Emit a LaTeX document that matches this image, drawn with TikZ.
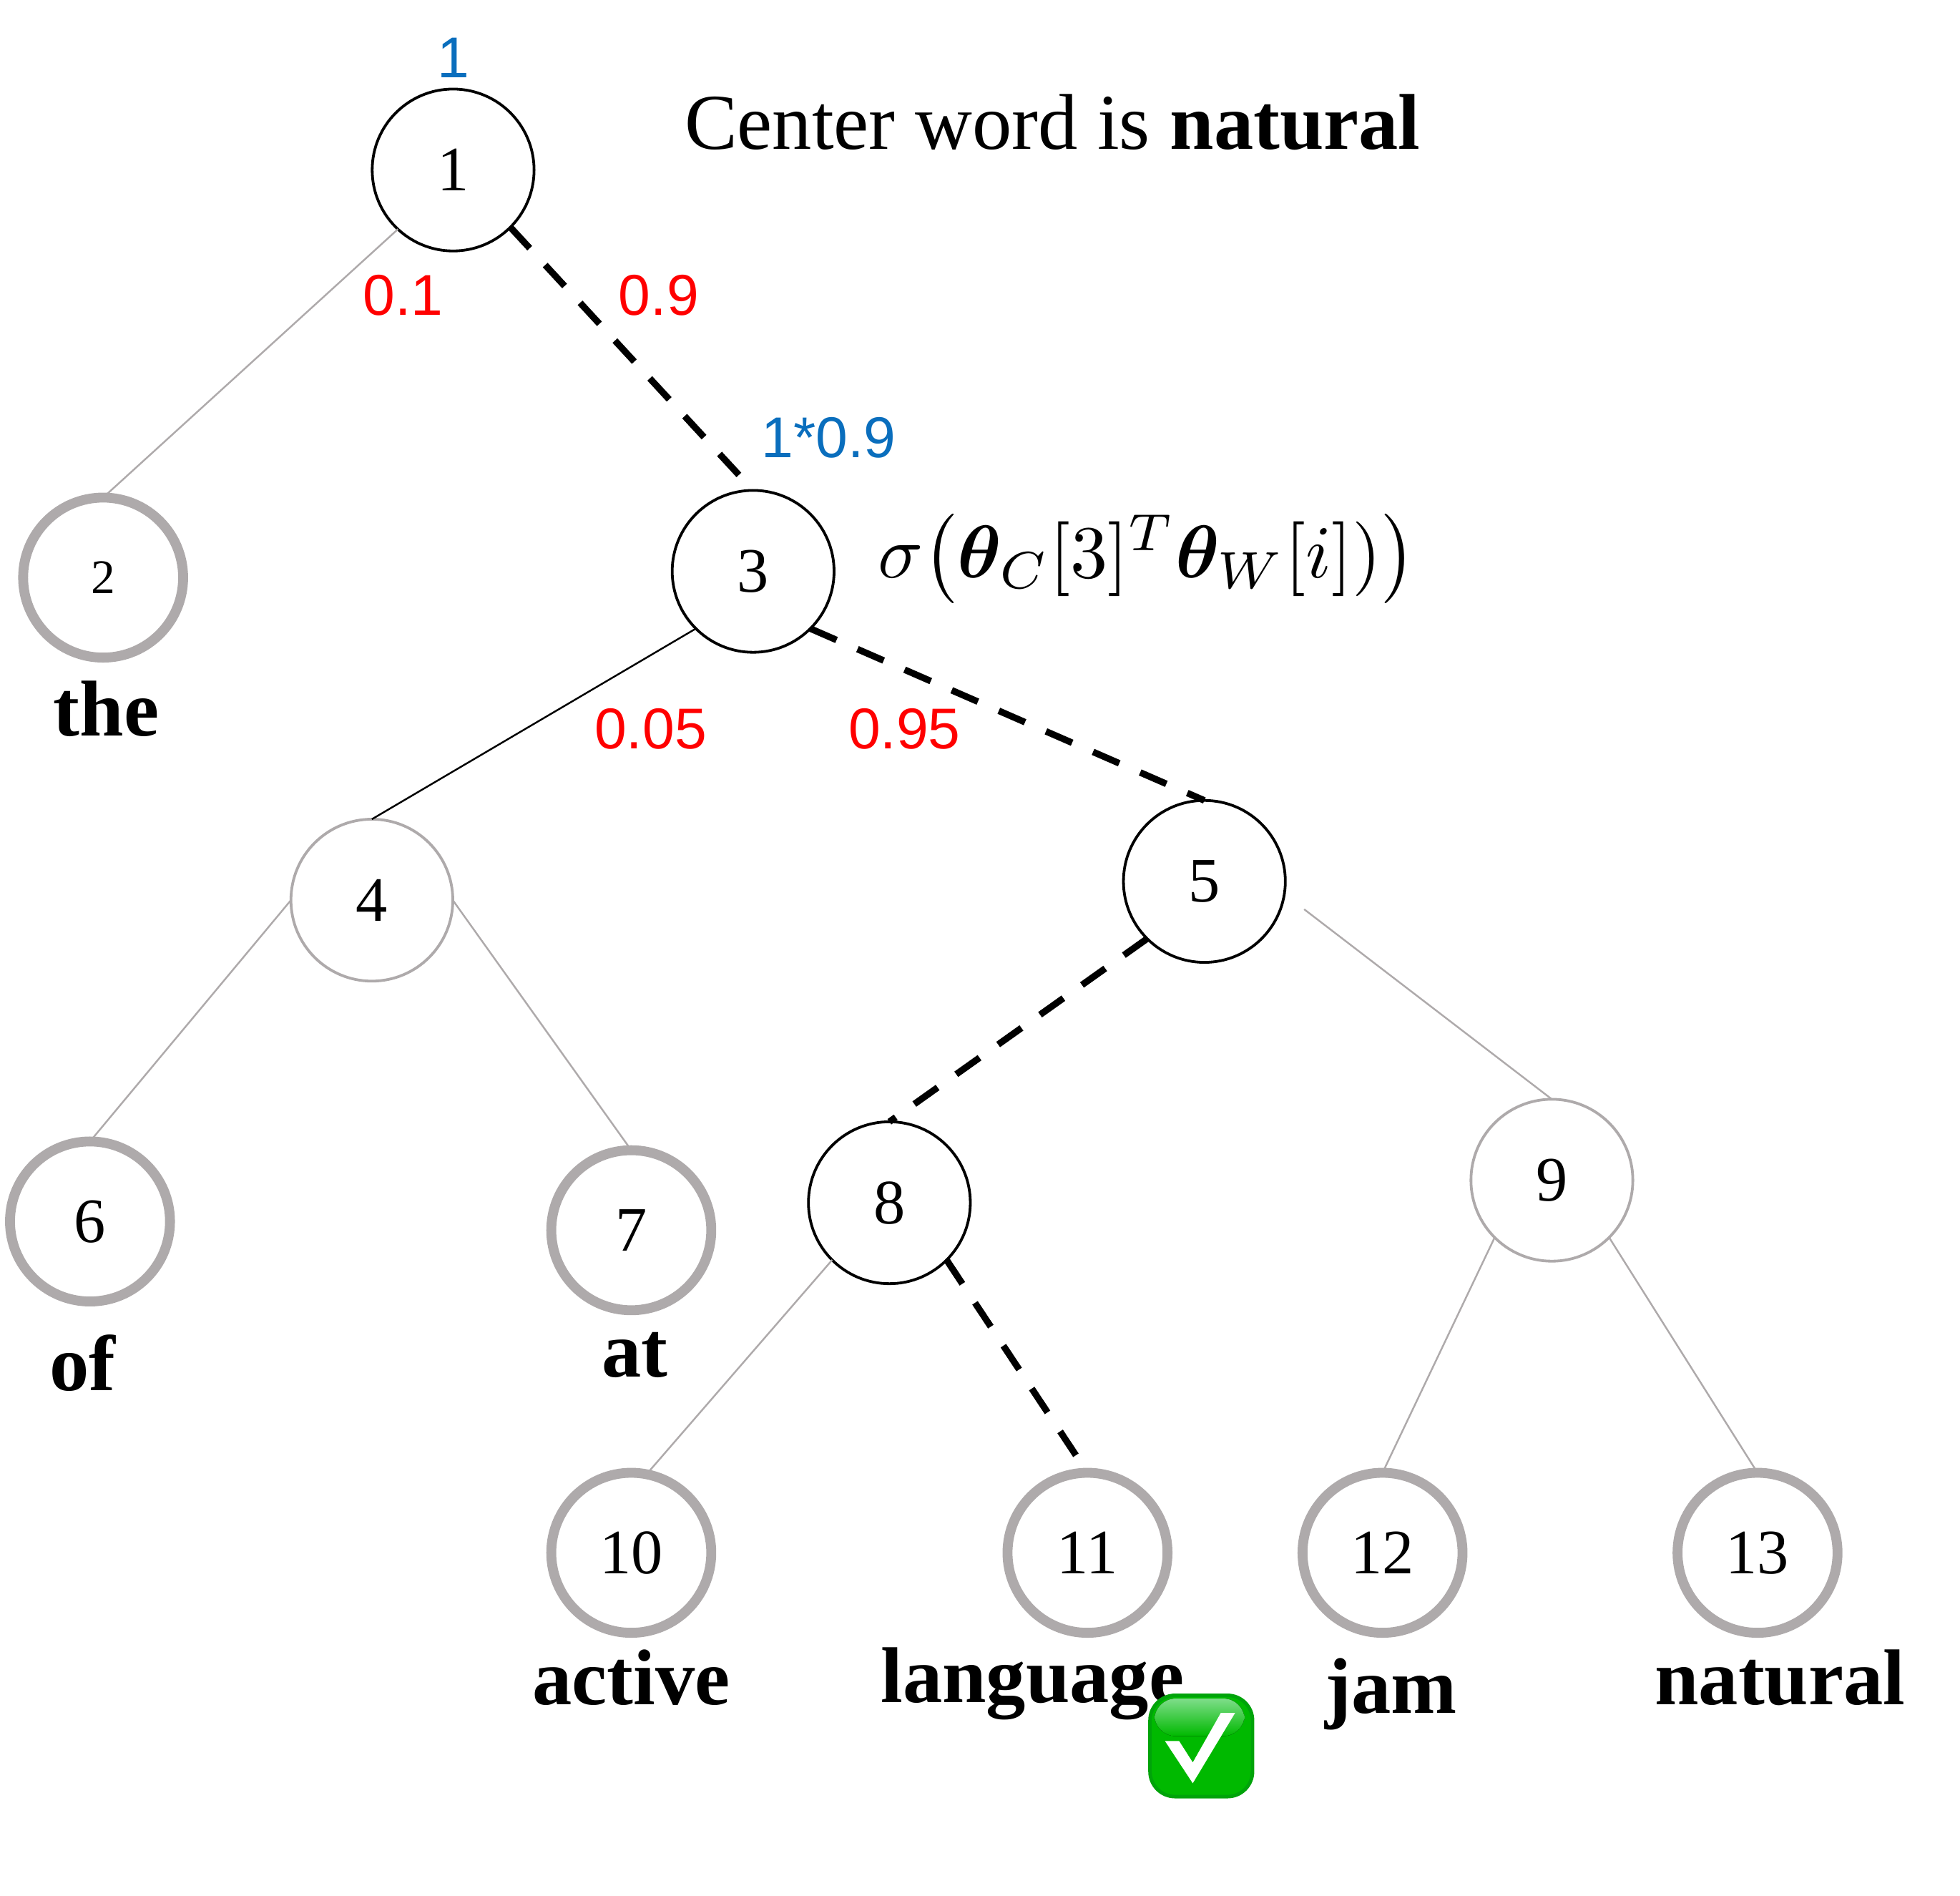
\documentclass[tikz,border=0pt]{standalone}
\usepackage{amsmath}
\usepackage{bm}
\usepackage{fontspec}
\setmainfont{Liberation Serif}
\newfontfamily\sansfont{Liberation Sans}
\definecolor{ringgray}{HTML}{AEAAAB}
\definecolor{probblue}{HTML}{0A6EBD}
\definecolor{tickgreen}{HTML}{00B900}
\definecolor{tickedge}{HTML}{00A30A}
\definecolor{tickglow}{HTML}{8FE29C}
\tikzset{
  inner/.style={circle,draw=black,line width=0.62pt,minimum size=1.295cm,inner sep=0pt,outer sep=0pt,font=\fontsize{14.4}{16}\selectfont},
  innergray/.style={inner,draw=ringgray},
  leaf/.style={inner,draw=ringgray,line width=2.25pt,minimum size=1.28cm},
  wordlabel/.style={font=\fontsize{18}{20}\selectfont\bfseries,inner sep=0pt},
  problabel/.style={font=\sansfont\fontsize{13.1}{15}\selectfont,text=red,inner sep=0pt},
  pathlabel/.style={problabel,text=probblue},
  pathedge/.style={line width=1.5pt,dash pattern=on 6.5pt off 5.2pt},
  thinedge/.style={ringgray,line width=0.4pt},
}
\begin{document}
\begin{tikzpicture}
\useasboundingbox (0,0) rectangle (15.68,15.16);

% Noeuds internes
\foreach \name/\x/\y in {1/3.625/13.80,3/6.025/10.59,5/9.635/8.11,8/7.115/5.54}
{
    \node[inner] (n\name) at (\x,\y) {\name};
}
\foreach \name/\x/\y in {4/2.975/7.96,9/12.415/5.72}
{
    \node[innergray] (n\name) at (\x,\y) {\name};
}

% Feuilles
\foreach \name/\x/\y in {6/0.72/5.39,7/5.05/5.32,10/5.05/2.74,11/8.70/2.74,12/11.06/2.74,13/14.06/2.74}
{
    \node[leaf] (n\name) at (\x,\y) {\name};
}
\node[leaf,font=\fontsize{11}{13}\selectfont] (n2) at (0.825,10.54) {2};

% Mots
\node[wordlabel] (the) at (0.85,9.49) {the};
\node[wordlabel] (of) at (0.66,4.26) {of};
\node[wordlabel] (at) at (5.08,4.32) {at};
\node[wordlabel] (active) at (5.05,1.74) {active};
\node[wordlabel] (language) at (8.26,1.69) {language};
\node[wordlabel] (jam) at (11.13,1.61) {jam};
\node[wordlabel] (natural) at (14.24,1.74) {natural};

% Aretes
\draw[thinedge] (n1.227) -- (n2.90);
\draw[black,line width=0.4pt] (n3.225) -- (n4.90);
\draw[thinedge] (n4.180) -- (n6.90);
\draw[thinedge] (n4.0) -- (n7.90);
\draw[thinedge,shorten <=0.2cm] (n5.-9) -- (n9.90);
\draw[thinedge] (n8.225) -- (n10.79);
\draw[thinedge] (n9.225) -- (n12.90);
\draw[thinedge] (n9.315) -- (n13.90);
\draw[pathedge] (n1.315) -- (n3.90);
\draw[pathedge] (n3.-45) -- (n5.90);
\draw[pathedge] (n5.225) -- (n8.90);
\draw[pathedge] (n8.-45) -- (n11.90);

% Probabilites
\node[problabel] (p01) at (3.225,12.80) {0.1};
\node[problabel] (p09) at (5.27,12.80) {0.9};
\node[problabel] (p005) at (5.205,9.33) {0.05};
\node[problabel] (p095) at (7.235,9.33) {0.95};
\node[pathlabel] (w1) at (3.625,14.70) {1};
\node[pathlabel] (w3) at (6.63,11.66) {1*0.9};

% Texte
\node[font=\fontsize{18}{20}\selectfont,inner sep=0pt] (title) at (8.42,14.18)
{Center word is \textbf{natural}};
\node[scale=1.7,inner sep=0pt] (sigma) at (9.175,10.69)
{$\sigma\mathopen{}\left(\bm{\theta}_C[3]^T\bm{\theta}_W[i])\right)$};

% Coche
\node[rounded corners=0.2cm,fill=tickgreen,draw=tickedge,line width=0.8pt,minimum width=0.82cm,minimum height=0.81cm,inner sep=0pt] (tick) at (9.61,1.195) {};
\fill[rounded corners=0.17cm,top color=tickglow,bottom color=tickgreen]
(tick.north west) ++(0.05,-0.04)
-- ++(0.72,0)
-- ++(0,-0.3)
-- ++(-0.72,0)
-- cycle;
\fill[white]
(9.32,1.234)
--
(9.433,1.234)
--
(9.542,1.063)
--
(9.767,1.46)
--
(9.881,1.46)
--
(9.542,0.897)
--
cycle;

\end{tikzpicture}
\end{document}
